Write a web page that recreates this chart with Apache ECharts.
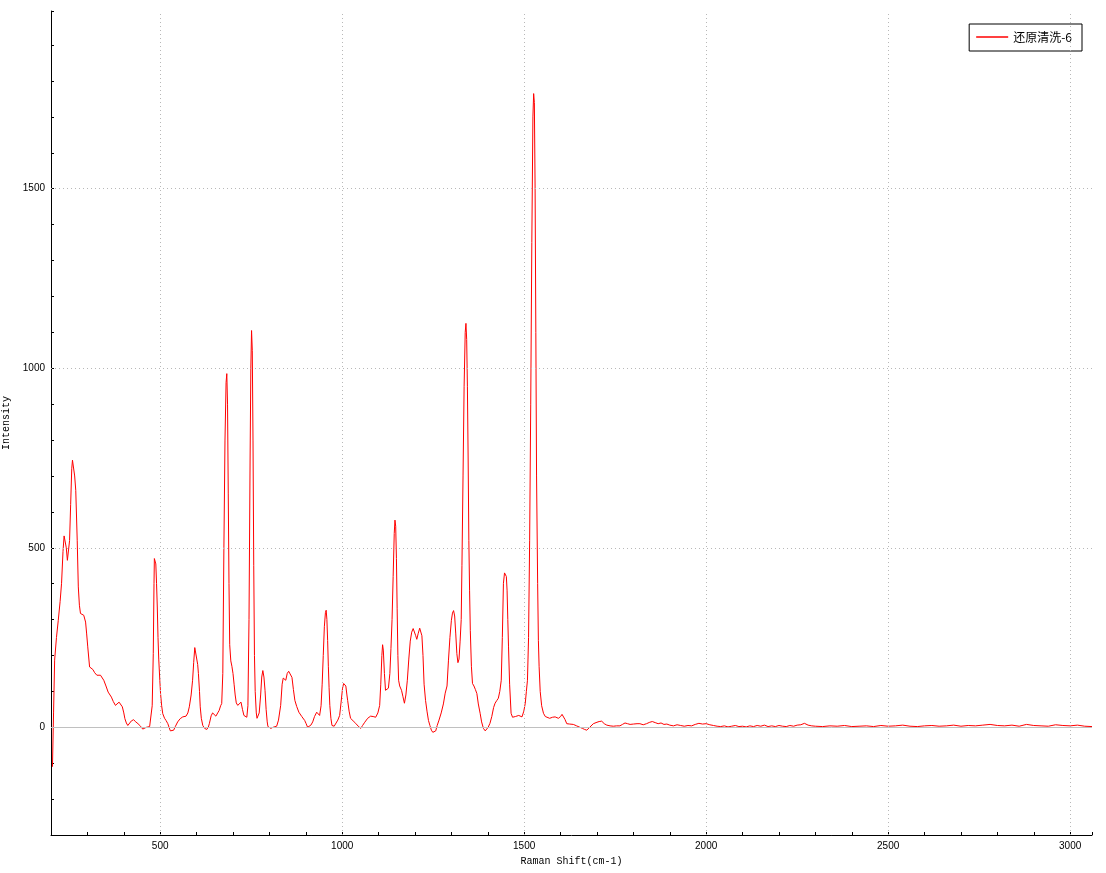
<!DOCTYPE html>
<html>
<head>
<meta charset="utf-8">
<script src="https://cdn.jsdelivr.net/npm/echarts@6/dist/echarts.min.js"></script>
<style>html,body{margin:0;padding:0;background:#fff}#c{width:1106px;height:873px}</style>
</head>
<body>
<div id="c"></div>
<script>
const seriesName = '还原清洗-6';
const ramanShift = [204,207,210,215,220,225,229,233,236,239,242,245,248,251,254,257,259,262,265,268,272,275,278,281,286,290,295,298,301,306,310,315,320,326,336,345,351,357,366,371,377,382,387,392,396,400,403,407,411,416,421,427,433,439,446,452,457,462,466,471,475,478,481,483,484,486,488,490,492,494,496,499,501,504,507,512,516,521,525,528,533,537,542,548,555,562,571,576,580,585,589,592,595,598,600,603,605,608,610,613,617,622,628,632,635,640,644,648,653,658,662,666,669,672,675,678,681,683,685,687,689,691,694,697,700,703,706,709,713,717,722,726,730,734,738,741,744,747,749,751,753,755,757,759,761,764,766,769,772,776,779,782,785,788,791,794,796,800,804,810,815,820,825,831,835,838,842,845,849,853,857,862,866,870,875,881,889,897,901,905,910,914,919,924,930,935,938,942,945,948,951,954,956,958,960,962,964,966,969,972,974,978,982,988,993,997,1001,1004,1007,1010,1013,1015,1019,1023,1030,1037,1044,1051,1056,1062,1070,1078,1085,1092,1098,1103,1106,1109,1111,1113,1116,1119,1123,1127,1131,1134,1137,1140,1143,1145,1147,1149,1151,1153,1155,1158,1163,1167,1171,1175,1179,1183,1187,1191,1195,1198,1202,1205,1209,1213,1216,1219,1222,1225,1229,1233,1237,1241,1245,1249,1253,1257,1261,1266,1272,1278,1283,1288,1292,1296,1300,1303,1306,1309,1312,1315,1318,1321,1324,1327,1329,1332,1335,1338,1340,1342,1344,1346,1348,1350,1352,1355,1358,1362,1366,1370,1374,1379,1383,1388,1393,1397,1401,1406,1411,1416,1420,1425,1429,1433,1437,1440,1443,1446,1449,1451,1453,1455,1457,1460,1464,1468,1471,1476,1480,1485,1490,1494,1499,1503,1506,1509,1512,1515,1518,1521,1524,1526,1528,1530,1532,1534,1537,1539,1541,1544,1548,1553,1558,1562,1570,1578,1585,1590,1594,1600,1604,1607,1612,1617,1625,1635,1644,1653,1660,1666,1672,1680,1690,1700,1706,1713,1720,1727,1736,1745,1754,1763,1770,1777,1784,1791,1800,1810,1818,1827,1836,1845,1852,1860,1868,1876,1884,1892,1900,1910,1920,1930,1940,1950,1960,1970,1980,1990,2000,2010,2020,2030,2040,2050,2060,2070,2080,2090,2100,2110,2120,2130,2140,2150,2160,2170,2180,2190,2200,2210,2220,2230,2240,2250,2260,2270,2280,2290,2300,2320,2340,2360,2380,2400,2420,2440,2460,2480,2500,2520,2540,2560,2580,2600,2620,2640,2660,2680,2700,2720,2740,2760,2780,2800,2820,2840,2860,2880,2900,2920,2940,2960,2980,3000,3020,3040,3060];
const intensity = [-110,40,187,250,298,350,401,490,533,538,500,465,460,520,620,720,744,742,700,660,521,391,340,317,313,312,293,260,224,168,163,161,152,145,145,131,115,98,84,72,61,66,70,65,57,40,24,12,5,10,18,21,15,10,3,-5,-3,0,3,2,0,60,205,400,470,470,455,400,335,250,190,130,94,60,38,25,19,10,-2,-10,-11,-8,3,15,24,29,31,40,57,90,131,180,222,226,222,175,150,100,57,25,5,-3,-6,0,10,32,40,35,31,40,47,60,66,150,500,800,960,985,900,650,400,230,185,170,150,120,90,68,61,65,70,50,33,30,28,60,300,750,1000,1105,1050,800,450,200,100,40,25,28,40,90,140,158,140,103,50,15,2,-2,-3,0,2,3,20,61,120,137,133,131,150,156,152,139,105,75,58,42,30,19,10,0,3,6,15,30,42,40,33,60,120,200,280,320,326,300,242,170,110,61,25,5,0,3,8,20,33,70,109,122,125,115,90,75,45,25,18,11,3,-3,5,14,25,31,30,28,40,61,120,200,230,215,150,103,100,109,150,220,300,420,540,577,560,470,330,200,131,115,103,85,67,90,131,190,240,265,275,275,255,245,262,276,272,255,200,120,75,45,19,5,-8,-14,-17,-10,5,20,40,65,95,115,187,250,298,318,325,310,260,205,180,190,240,300,450,700,950,1100,1125,1080,950,750,520,380,270,170,122,115,105,94,65,39,15,-3,-10,-11,0,11,30,55,67,75,81,100,131,250,401,430,433,420,382,300,224,120,39,28,25,30,33,33,30,29,45,67,100,131,250,521,900,1350,1700,1765,1740,1500,1100,700,400,242,170,100,60,39,30,25,25,28,29,27,25,30,36,33,22,10,9,8,4,0,-3,-6,-8,0,10,14,16,17,10,6,4,3,4,4,8,12,10,8,9,10,10,7,10,14,16,13,10,12,8,9,6,4,7,5,3,5,4,8,11,9,10,7,5,3,2,4,1,3,5,2,3,1,4,2,5,3,6,2,4,2,5,3,2,5,3,6,7,11,6,4,3,2,4,3,5,2,3,4,2,5,3,4,6,3,2,4,5,3,4,6,3,5,4,6,8,5,4,6,3,8,5,4,3,7,5,4,6,3,2];
const xGridValues = [500,1000,1500,2000,2500,3000];
const yGridValues = [500,1000,1500];
const xLabelStep = 500;
const yLabelStep = 500;

const n = Math.min(ramanShift.length, intensity.length);
const points = ramanShift.slice(0, n).map((x, i) => [x, intensity[i]]);
const monoFont = 'Liberation Mono';
const labelFont = 'Liberation Sans';
const chart = echarts.init(document.getElementById('c'), null, {renderer: 'canvas'});
chart.setOption({
  animation: false,
  backgroundColor: '#ffffff',
  grid: {left: 51, right: 14, top: 11, bottom: 38, containLabel: false, outerBoundsMode: 'none'},
  legend: {
    data: [seriesName],
    right: 24, top: 24,
    orient: 'vertical',
    borderColor: '#000', borderWidth: 1,
    padding: [7, 10, 8, 7],
    icon: 'rect',
    itemWidth: 32, itemHeight: 1.5, itemGap: 6,
    textStyle: {fontFamily: 'Noto Sans CJK SC', fontSize: 12, color: '#000'}
  },
  xAxis: {
    type: 'value', min: 200, max: 3060, interval: 100,
    name: 'Raman Shift(cm-1)', nameLocation: 'middle', nameGap: 19,
    nameTextStyle: {fontFamily: monoFont, fontSize: 10, color: '#000'},
    axisLine: {show: true, onZero: false, lineStyle: {color: '#000', width: 1}},
    axisTick: {show: true, inside: true, length: 3, lineStyle: {color: '#000'}},
    axisLabel: {color: '#000', fontFamily: labelFont, fontSize: 10, margin: 6,
      formatter: v => (v % xLabelStep === 0 ? String(v) : '')},
    splitLine: {show: false}
  },
  yAxis: {
    type: 'value', min: -300, max: 1995, interval: 100,
    name: 'Intensity', nameLocation: 'middle', nameGap: 35,
    nameTextStyle: {fontFamily: monoFont, fontSize: 10, color: '#000'},
    axisLine: {show: true, onZero: false, lineStyle: {color: '#000', width: 1}},
    axisTick: {show: true, inside: true, length: 3, lineStyle: {color: '#000'}},
    axisLabel: {color: '#000', fontFamily: labelFont, fontSize: 10, margin: 6,
      formatter: v => (v % yLabelStep === 0 && v >= 0 ? String(v) : '')},
    splitLine: {show: false}
  },
  series: [
    {
      name: 'grid', type: 'line', data: [], z: 1, silent: true,
      markLine: {
        silent: true, symbol: 'none', animation: false,
        label: {show: false},
        data: [
          ...xGridValues.map(v => ({xAxis: v, lineStyle: {color: '#b8b8b8', type: [1, 3], width: 1}})),
          ...yGridValues.map(v => ({yAxis: v, lineStyle: {color: '#b8b8b8', type: [1, 3], width: 1}})),
          {yAxis: 0, lineStyle: {color: '#c0c0c0', type: 'solid', width: 1}}
        ]
      }
    },
    {
      name: seriesName, type: 'line', data: points, z: 3,
      symbol: 'none', showSymbol: false,
      lineStyle: {color: '#ff0000', width: 1},
      itemStyle: {color: '#ff0000'}
    }
  ]
});
</script>
</body>
</html>
